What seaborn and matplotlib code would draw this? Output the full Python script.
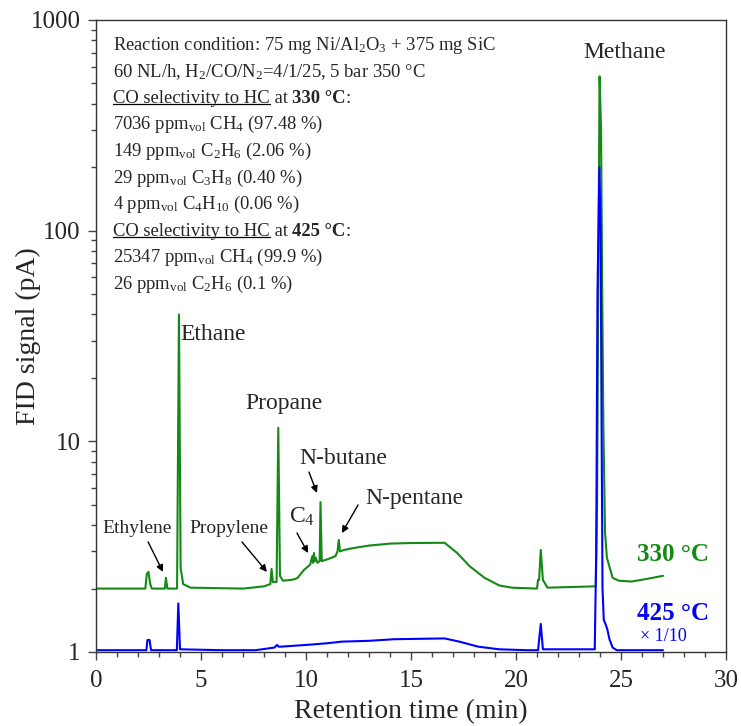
import matplotlib
matplotlib.use("Agg")
import matplotlib.pyplot as plt
import seaborn as sns
import pandas as pd
from matplotlib.lines import Line2D

# FID chromatogram at 330 °C (pA)
green_time = [0.0, 2.35, 2.42, 2.5, 2.58, 2.66, 3.28, 3.33, 3.4, 3.86, 3.95, 4.03, 4.15, 4.5,
              7.0, 8.0, 8.3, 8.36, 8.42, 8.6, 8.68, 8.76, 8.9, 9.3, 9.48, 9.6, 9.9, 10.2,
              10.3, 10.34, 10.38, 10.42, 10.46, 10.55, 10.65, 10.69, 10.75, 11.0, 11.4,
              11.5, 11.56, 11.62, 11.8, 12.3, 13.0, 14.0, 15.0, 16.6, 17.2, 17.8, 18.5,
              19.2, 19.8, 21.0, 21.05, 21.1, 21.18, 21.28, 21.5, 23.8, 23.86, 23.92,
              23.98, 24.05, 24.1, 24.16, 24.24, 24.33, 24.6, 24.9, 25.5, 26.2, 27.0]
green_signal = [2.0, 2.0, 2.35, 2.4, 2.1, 2.0, 2.0, 2.25, 2.0, 2.0, 40.0, 2.5, 2.1, 2.02,
                2.0, 2.05, 2.1, 2.48, 2.15, 2.15, 11.6, 2.3, 2.18, 2.2, 2.22, 2.25, 2.45,
                2.6, 2.85, 2.65, 2.95, 2.7, 2.8, 2.65, 2.7, 5.15, 2.7, 2.75, 2.85, 3.0,
                3.4, 3.0, 3.05, 3.12, 3.2, 3.27, 3.29, 3.3, 2.95, 2.55, 2.25, 2.07, 2.02,
                2.0, 2.2, 2.2, 3.05, 2.2, 2.02, 2.05, 5.0, 60.0, 540.0, 300.0, 60.0,
                12.0, 3.67, 2.8, 2.25, 2.18, 2.16, 2.22, 2.3]

# FID chromatogram at 425 °C, plotted ×1/10 (pA)
blue_time = [0.0, 2.4, 2.45, 2.55, 2.62, 3.85, 3.92, 4.0, 6.0, 7.6, 8.5, 8.62, 8.7, 8.8,
             10.0, 11.0, 11.7, 13.0, 14.2, 16.6, 17.3, 18.2, 19.2, 20.5, 21.05, 21.18,
             21.28, 23.75, 23.82, 23.88, 23.97, 24.03, 24.08, 24.12, 24.18, 24.26,
             24.35, 24.45, 24.6, 24.8, 27.0]
blue_signal = [1.02, 1.02, 1.14, 1.14, 1.02, 1.02, 1.7, 1.03, 1.02, 1.02, 1.05, 1.08, 1.06,
               1.06, 1.08, 1.1, 1.12, 1.13, 1.15, 1.16, 1.12, 1.06, 1.03, 1.02, 1.02,
               1.36, 1.03, 1.03, 3.0, 50.0, 200.0, 100.0, 10.0, 2.0, 1.42, 1.36, 1.28,
               1.15, 1.05, 1.02, 1.02]

x_ticks = [0, 5, 10, 15, 20, 25, 30]
y_ticks = [1, 10, 100, 1000]
y_tick_labels = ["1", "10", "100", "1000"]

condition_lines = [
    "Reaction condition: 75 mg Ni/Al$_2$O$_3$ + 375 mg SiC",
    "60 NL/h, H$_2$/CO/N$_2$=4/1/25, 5 bar 350 °C",
    None,
    "7036 ppm$_\\mathregular{vol}$ CH$_4$ (97.48 %)",
    "149 ppm$_\\mathregular{vol}$ C$_2$H$_6$ (2.06 %)",
    "29 ppm$_\\mathregular{vol}$ C$_3$H$_8$ (0.40 %)",
    "4 ppm$_\\mathregular{vol}$ C$_4$H$_{10}$ (0.06 %)",
    None,
    "25347 ppm$_\\mathregular{vol}$ CH$_4$ (99.9 %)",
    "26 ppm$_\\mathregular{vol}$ C$_2$H$_6$ (0.1 %)",
]
selectivity_temps = ["330 °C", "425 °C"]

sns.set_style("ticks")
plt.rcParams["font.family"] = ["Liberation Serif", "DejaVu Serif"]
plt.rcParams["mathtext.fontset"] = "custom"
plt.rcParams["mathtext.rm"] = "Liberation Serif"
plt.rcParams["mathtext.it"] = "Liberation Serif:italic"
plt.rcParams["mathtext.bf"] = "Liberation Serif:bold"

green = "#138a13"
blue = "#0000ff"

df = pd.concat([
    pd.DataFrame({"time": green_time, "signal": green_signal, "trace": "330"}),
    pd.DataFrame({"time": blue_time, "signal": blue_signal, "trace": "425"}),
])

fig = plt.figure(figsize=(7.41, 7.26), dpi=100)
ax = fig.add_axes([96 / 741, 74 / 726, 630 / 741, 632 / 726])
sns.lineplot(data=df, x="time", y="signal", hue="trace", palette={"330": green, "425": blue},
             estimator=None, sort=False, linewidth=1.5, legend=False, ax=ax)

ax.set_yscale("log")
ax.set_xlim(0, 30)
ax.set_ylim(1, 1000)
ax.set_xticks(x_ticks)
ax.set_xticks(range(0, 31), minor=True)
ax.set_yticks(y_ticks)
ax.set_yticklabels(y_tick_labels)
ax.tick_params(axis="both", which="major", labelsize=18, length=6, width=1, color="#444444", pad=5)
ax.tick_params(axis="both", which="minor", length=3.5, width=1, color="#444444")
ax.tick_params(axis="x", which="major", pad=7)
for s in ax.spines.values():
    s.set_linewidth(1.0)
    s.set_color("#333333")
ax.set_xlabel("Retention time (min)", fontsize=20)
ax.set_ylabel("FID signal (pA)", fontsize=20)
ax.xaxis.set_label_coords(0.5, -(712 - 652) / 632)
ax.yaxis.set_label_coords(-(96 - 28) / 630, 0.5)
ax.xaxis.label.set_va("center")
ax.yaxis.label.set_va("center")

# peak labels
big = 17
small = 14
ax.text(25.19, 704, "Methane", fontsize=big, ha="center", va="center")
ax.text(4.0, 32, "Ethane", fontsize=big, ha="left", va="center")
ax.text(8.95, 15.2, "Propane", fontsize=big, ha="center", va="center")
ax.text(11.76, 8.33, "N-butane", fontsize=big, ha="center", va="center")
ax.text(15.14, 5.38, "N-pentane", fontsize=big, ha="center", va="center")
ax.text(9.19, 4.37, "C$_4$", fontsize=big, ha="left", va="center")
ax.text(1.95, 3.84, "Ethylene", fontsize=small, ha="center", va="center")
ax.text(6.33, 3.84, "Propylene", fontsize=small, ha="center", va="center")

arrow = dict(arrowstyle="-|>", color="black", lw=1.0, mutation_scale=10, shrinkA=0, shrinkB=0)
for (tx, ty), (hx, hy) in [((2.48, 3.33), (3.19, 2.40)),
                           ((6.95, 3.33), (8.14, 2.40)),
                           ((9.57, 3.67), (10.1, 2.95)),
                           ((10.14, 7.15), (10.52, 5.69)),
                           ((12.48, 4.99), (11.71, 3.67))]:
    ax.annotate("", xy=(hx, hy), xytext=(tx, ty), arrowprops=arrow)

# trace labels
ax.text(25.76, 2.89, "330 °C", fontsize=18, fontweight="bold", color=green, ha="left", va="center")
ax.text(25.76, 1.53, "425 °C", fontsize=18, fontweight="bold", color=blue, ha="left", va="center")
ax.text(25.9, 1.18, "× 1/10", fontsize=13, color=blue, ha="left", va="center")

# reaction condition block
fs = 13.4
x0 = (113 - 96) / 630
y_top = (652 - 45) / 632
dy = 26.6 / 632
fig.canvas.draw()
renderer = fig.canvas.get_renderer()
temps = iter(selectivity_temps)
for i, line in enumerate(condition_lines):
    y = y_top - i * dy
    if line is not None:
        ax.text(x0, y, line, fontsize=fs, transform=ax.transAxes, ha="left", va="center")
        continue
    # heading: underlined phrase followed by bold temperature
    runs = [("CO selectivity to HC", "normal"), (" at ", "normal"), (next(temps), "bold"), (":", "normal")]
    xpos = x0
    for k, (txt, weight) in enumerate(runs):
        t = ax.text(xpos, y, txt, fontsize=fs, fontweight=weight, transform=ax.transAxes,
                    ha="left", va="center")
        bb = t.get_window_extent(renderer=renderer)
        bb_ax = bb.transformed(ax.transAxes.inverted())
        if k == 0:
            uy = bb_ax.y0 + 0.15 * (bb_ax.y1 - bb_ax.y0)
            ax.add_line(Line2D([bb_ax.x0, bb_ax.x1], [uy, uy], transform=ax.transAxes,
                               color="black", lw=0.9))
        xpos = bb_ax.x1

fig.savefig("out.png", dpi=100)
